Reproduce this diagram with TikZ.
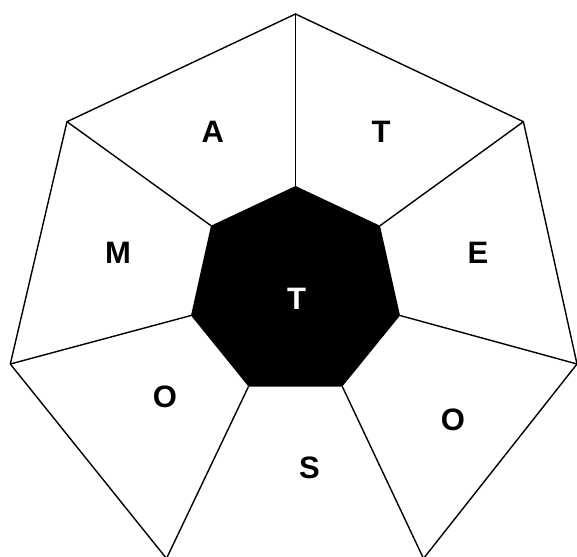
\documentclass[tikz,border=0pt]{standalone}
\usepackage{fontspec}
\setmainfont{Liberation Sans}
\begin{document}
\begin{tikzpicture}[x=1pt,y=-1pt,
  edge/.style={line width=1.4pt, line join=miter},
  lbl/.style={font=\fontsize{31}{31}\selectfont\bfseries, inner sep=0pt, anchor=center}]
\useasboundingbox (0,0) rectangle (577,556);
\clip (0,0) rectangle (577,556);
% outer vertices
\coordinate (o1) at (295.5,14);
\coordinate (o2) at (523.4,121.7);
\coordinate (o3) at (577,364);
\coordinate (o4) at (423.5,558.5);
\coordinate (o5) at (166.5,558.5);
\coordinate (o6) at (10.3,364);
\coordinate (o7) at (67,121.7);
% inner vertices
\coordinate (i1) at (295.5,186);
\coordinate (i2) at (380,225.7);
\coordinate (i3) at (400,315.5);
\coordinate (i4) at (342.3,386.5);
\coordinate (i5) at (248.5,386.5);
\coordinate (i6) at (191,315.5);
\coordinate (i7) at (211,225.7);
\draw[edge] (o1) -- (o2) -- (o3) -- (o4) -- (o5) -- (o6) -- (o7) -- cycle;
\foreach \k in {1,...,7}{\draw[edge] (o\k) -- (i\k);}
\fill[black] (i1) -- (i2) -- (i3) -- (i4) -- (i5) -- (i6) -- (i7) -- cycle;
\node[lbl] (la) at (212.7,132) {A};
\node[lbl] (lt1) at (381,132) {T};
\node[lbl] (lm) at (118,253) {M};
\node[lbl] (le) at (478,253) {E};
\node[lbl, text=white] (lt2) at (296.5,299) {T};
\node[lbl] (lo1) at (165,397) {O};
\node[lbl] (ls) at (309.5,468) {S};
\node[lbl] (lo2) at (453,420) {O};
\end{tikzpicture}
\end{document}
